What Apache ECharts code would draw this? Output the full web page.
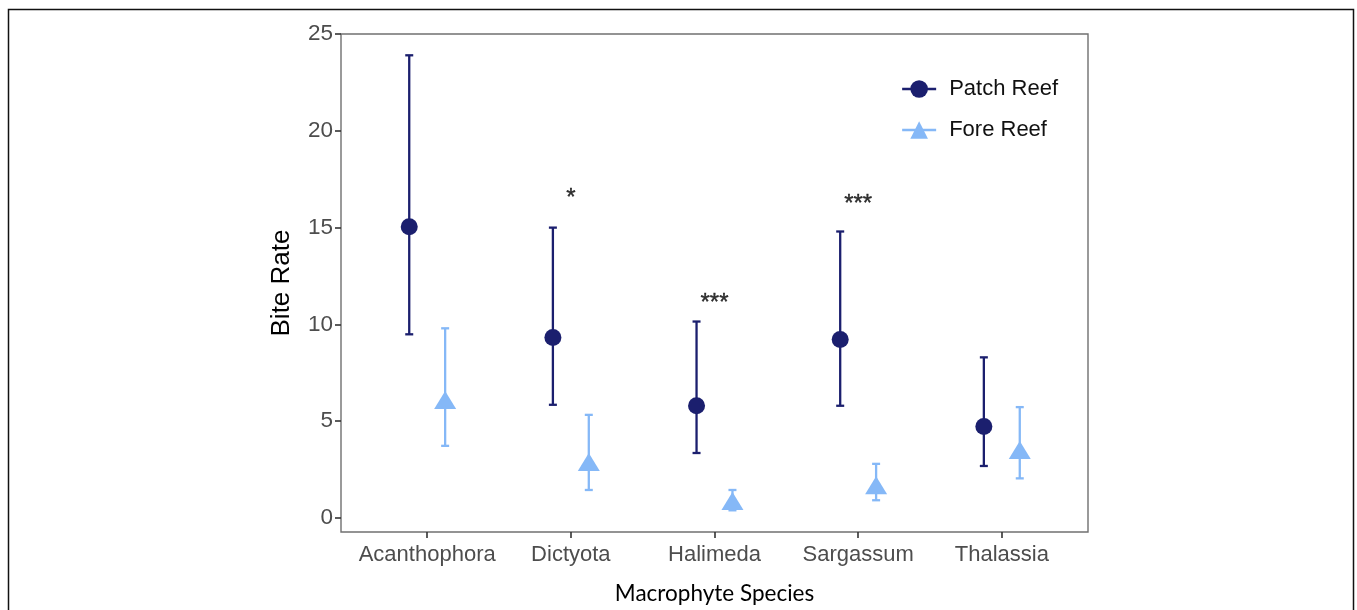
<!DOCTYPE html>
<html>
<head>
<meta charset="utf-8">
<script src="https://cdn.jsdelivr.net/npm/echarts@6/dist/echarts.min.js"></script>
<style>html,body{margin:0;padding:0;background:#fff;}#c{width:1357px;height:610px;}</style>
</head>
<body>
<div id="c"></div>
<script>
const categories = ['Acanthophora', 'Dictyota', 'Halimeda', 'Sargassum', 'Thalassia'];
const patchMean  = [15.05, 9.32, 5.80, 9.22, 4.73];
const patchLow   = [9.49, 5.85, 3.36, 5.80, 2.69];
const patchHigh  = [23.90, 15.00, 10.15, 14.80, 8.30];
const foreMean   = [6.10, 2.90, 0.88, 1.70, 3.52];
const foreLow    = [3.73, 1.45, 0.40, 0.92, 2.05];
const foreHigh   = [9.80, 5.33, 1.45, 2.80, 5.73];
const sigLabels  = ['', '*', '***', '***', ''];
const sigY       = [null, 16.9, 11.5, 16.6, null];
const yTicks     = [0, 5, 10, 15, 20, 25];

const dodge = 0.125;
const patchColor = '#1b1f6e';
const foreColor = '#85b8f7';

function pts(means, off) { return means.map((m, i) => [i + 1 + off, m]); }
function bars(lo, hi, off) { return lo.map((l, i) => [i + 1 + off, l, hi[i]]); }

function errRender(color, capHalf) {
  return function (params, api) {
    const x = api.value(0);
    const lo = api.coord([x, api.value(1)]);
    const hi = api.coord([x, api.value(2)]);
    const st = { stroke: color, lineWidth: 2.3 };
    return {
      type: 'group',
      children: [
        { type: 'line', shape: { x1: lo[0], y1: lo[1], x2: hi[0], y2: hi[1] }, style: st },
        { type: 'line', shape: { x1: lo[0] - capHalf, y1: lo[1], x2: lo[0] + capHalf, y2: lo[1] }, style: st },
        { type: 'line', shape: { x1: hi[0] - capHalf, y1: hi[1], x2: hi[0] + capHalf, y2: hi[1] }, style: st }
      ]
    };
  };
}

const sigData = sigLabels.map((s, i) => [i + 1, sigY[i], s]).filter(d => d[2] !== '');

const chart = echarts.init(document.getElementById('c'));
chart.setOption({
  animation: false,
  backgroundColor: '#fff',
  graphic: [{
    type: 'rect', silent: true,
    shape: { x: 8.5, y: 9.5, width: 1345, height: 700 },
    style: { fill: 'none', stroke: '#111', lineWidth: 1.5 }
  }],
  grid: {
    left: 341, top: 34, width: 747, height: 498,
    show: true, borderColor: '#707070', borderWidth: 1.4, backgroundColor: 'transparent'
  },
  xAxis: {
    type: 'value', min: 0.4, max: 5.6,
    name: 'Macrophyte Species', nameLocation: 'middle', nameGap: 50,
    nameTextStyle: { fontFamily: 'Lato', fontSize: 22.5, color: '#000' },
    splitLine: { show: false },
    axisLine: { show: false, onZero: false },
    axisTick: { show: true, customValues: [1, 2, 3, 4, 5], length: 6, lineStyle: { color: '#333', width: 1.6 } },
    axisLabel: {
      customValues: [1, 2, 3, 4, 5], margin: 12,
      fontFamily: 'Liberation Sans', fontSize: 22, color: '#4d4d4d',
      formatter: v => categories[Math.round(v) - 1]
    }
  },
  yAxis: {
    type: 'value', min: -0.72, max: 25.0,
    name: 'Bite Rate', nameLocation: 'middle', nameGap: 46,
    nameTextStyle: { fontFamily: 'Liberation Sans', fontSize: 26, color: '#000' },
    splitLine: { show: false },
    axisLine: { show: false, onZero: false },
    axisTick: { show: true, customValues: yTicks, length: 6, lineStyle: { color: '#333', width: 1.6 } },
    axisLabel: {
      customValues: yTicks, margin: 8,
      fontFamily: 'Liberation Sans', fontSize: 22.5, color: '#4d4d4d'
    }
  },
  legend: {
    orient: 'vertical', left: 896, top: 73, itemGap: 19,
    itemWidth: 34, itemHeight: 22,
    textStyle: { fontFamily: 'Liberation Sans', fontSize: 22, color: '#111', padding: [0, 0, 0, 8] },
    data: [
      { name: 'Patch Reef', lineStyle: { width: 2.3, color: patchColor, opacity: 1 } },
      { name: 'Fore Reef', lineStyle: { width: 2.3, color: foreColor, opacity: 1 } }
    ]
  },
  series: [
    {
      type: 'custom', name: 'pe', renderItem: errRender(patchColor, 4),
      data: bars(patchLow, patchHigh, -dodge), z: 2,
      encode: { x: 0, y: [1, 2] }
    },
    {
      type: 'custom', name: 'fe', renderItem: errRender(foreColor, 4),
      data: bars(foreLow, foreHigh, dodge), z: 2,
      encode: { x: 0, y: [1, 2] }
    },
    {
      type: 'line', name: 'Patch Reef', data: pts(patchMean, -dodge),
      symbol: 'circle', symbolSize: 17, z: 3,
      lineStyle: { width: 0, opacity: 0 },
      itemStyle: { color: patchColor, borderWidth: 0 }
    },
    {
      type: 'line', name: 'Fore Reef', data: pts(foreMean, dodge),
      symbol: 'triangle', symbolSize: [22, 18], z: 3,
      lineStyle: { width: 0, opacity: 0 },
      itemStyle: { color: foreColor, borderWidth: 0 }
    },
    {
      type: 'scatter', name: 'sig', data: sigData, symbolSize: 0, silent: true,
      label: {
        show: true, position: 'inside', offset: [0, 8],
        formatter: p => p.data[2],
        fontFamily: 'Liberation Sans', fontSize: 24, color: '#000',
        textBorderColor: '#000', textBorderWidth: 0.4
      }
    }
  ]
});
</script>
</body>
</html>
